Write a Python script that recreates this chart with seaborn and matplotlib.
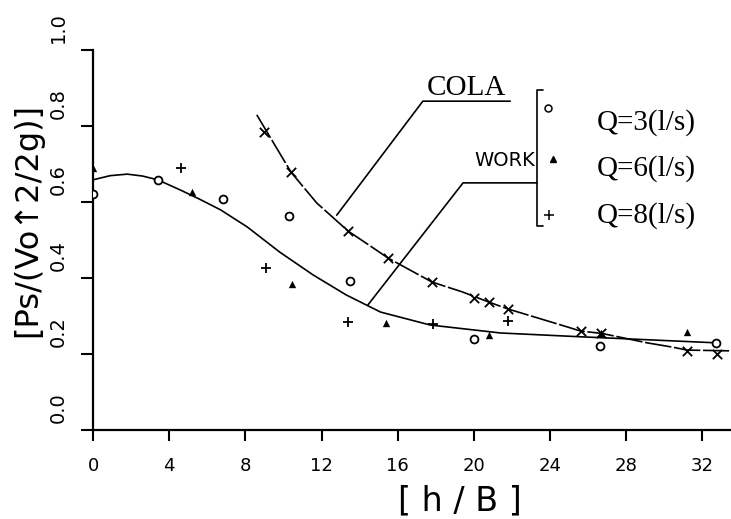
import numpy as np
import pandas as pd
import matplotlib
matplotlib.use("Agg")
import matplotlib.pyplot as plt
from matplotlib.transforms import ScaledTranslation
import seaborn as sns

# Measured pressure coefficient vs. relative depth h/B
q3_x = [0, 3.4, 6.8, 10.3, 13.5, 20.0, 26.6, 32.7]
q3_y = [0.62, 0.657, 0.607, 0.562, 0.391, 0.238, 0.22, 0.228]

q6_x = [0, 5.2, 10.45, 15.4, 20.8, 26.7, 31.2]
q6_y = [0.688, 0.625, 0.383, 0.28, 0.249, 0.253, 0.257]

q8_x = [4.6, 9.1, 13.4, 17.85, 21.8]
q8_y = [0.688, 0.425, 0.283, 0.278, 0.286]

# COLA computed values
cola_pts_x = [9.0, 10.4, 13.4, 15.5, 17.8, 20.0, 20.8, 21.8, 25.6, 26.7, 31.2, 32.75]
cola_pts_y = [0.783, 0.677, 0.522, 0.451, 0.388, 0.346, 0.335, 0.317, 0.259, 0.253, 0.207, 0.199]

cola_curve_x = [8.6, 10.4, 11.75, 13.4, 14.5, 15.5, 17.8, 19.4, 20.8, 21.8, 24.9,
                25.6, 26.7, 29.1, 30.4, 31.2, 33.4]
cola_curve_y = [0.828, 0.677, 0.596, 0.522, 0.485, 0.451, 0.388, 0.362, 0.335, 0.317,
                0.27, 0.259, 0.253, 0.228, 0.217, 0.209, 0.207]

# WORK fitted curve
work_x = [0, 0.9, 1.8, 2.6, 3.4, 4.6, 5.6, 6.7, 8.1, 9.8, 11.55, 13.3, 15.1, 17.7,
          21.4, 25.6, 28.3, 32.75]
work_y = [0.657, 0.668, 0.672, 0.667, 0.657, 0.63, 0.606, 0.578, 0.533, 0.467, 0.407,
          0.354, 0.309, 0.275, 0.254, 0.244, 0.238, 0.228]

x_ticks = [0, 4, 8, 12, 16, 20, 24, 28, 32]
y_ticks = [0.0, 0.2, 0.4, 0.6, 0.8, 1.0]
y_tick_labels = ["0.0", "0.2", "0.4", "0.6", "0.8", "1.0"]
legend_labels = ["Q=3(l/s)", "Q=6(l/s)", "Q=8(l/s)"]

sns.set_style("ticks")
plt.rcParams["font.family"] = ["DejaVu Sans"]

fig = plt.figure(figsize=(7.31, 5.19), dpi=100)
ax = fig.add_axes([93 / 731, (519 - 429.5) / 519, 638 / 731, 380 / 519])

ink = "black"

sns.lineplot(x=work_x, y=work_y, ax=ax, color=ink, lw=1.2, sort=False, estimator=None)
sns.lineplot(x=cola_curve_x, y=cola_curve_y, ax=ax, color=ink, lw=1.2, sort=False,
             estimator=None, dashes=False)
ax.lines[-1].set_dashes([16, 1.6])

sns.scatterplot(x=q3_x, y=q3_y, ax=ax, marker="o", s=32, facecolor="white",
                edgecolor=ink, linewidth=1.3, zorder=4)
sns.scatterplot(x=q6_x, y=q6_y, ax=ax, marker="^", s=28, color=ink, linewidth=0, zorder=4)
sns.scatterplot(x=q8_x, y=q8_y, ax=ax, marker="+", s=45, color=ink, linewidth=1.3, zorder=4)
sns.scatterplot(x=cola_pts_x, y=cola_pts_y, ax=ax, marker="x", s=45, color=ink,
                linewidth=1.3, zorder=4)

ax.set_xlim(0, 33.5)
ax.set_ylim(0, 1.0)
sns.despine(ax=ax)
for side in ("left", "bottom"):
    ax.spines[side].set_linewidth(1.6)
    ax.spines[side].set_color(ink)

ax.set_xticks(x_ticks)
ax.set_xticklabels([str(v) for v in x_ticks], fontsize=13)
ax.set_yticks(y_ticks)
ax.set_yticklabels(y_tick_labels, fontsize=14, rotation=90, va="center")
ax.tick_params(axis="x", direction="out", length=8, width=1.5, pad=12, colors=ink)
ax.tick_params(axis="y", direction="out", length=9, width=1.5, pad=9, colors=ink)
shift = ScaledTranslation(0, 0.22, fig.dpi_scale_trans)
for lab in ax.get_yticklabels():
    lab.set_transform(lab.get_transform() + shift)

ax.set_xlabel("[ h / B ]", fontsize=24, color=ink)
ax.xaxis.set_label_coords((460 - 93) / 638, (429.5 - 484) / 380)
ax.set_ylabel("[Ps/(Vo\u21912/2g)]", fontsize=23, color=ink)
ax.yaxis.label.set_va("center")
ax.yaxis.set_label_coords((28 - 93) / 638, (429.5 - 220) / 380)

# Annotations: COLA and WORK call-outs
tr = ax.transAxes
ax.plot([0.654, 0.517, 0.382], [0.864, 0.864, 0.564], color=ink, lw=1.2,
        transform=tr, clip_on=False)
ax.text(0.585, 0.898, "COLA", transform=tr, ha="center", va="center",
        fontsize=21, family="Liberation Serif", color=ink)
ax.plot([0.696, 0.580, 0.431], [0.649, 0.649, 0.328], color=ink, lw=1.2,
        transform=tr, clip_on=False)
ax.text(0.693, 0.708, "WORK", transform=tr, ha="right", va="center",
        fontsize=14, color=ink)

# Bracketed legend for the measured series
ax.plot([0.706, 0.696, 0.696, 0.706], [0.893, 0.893, 0.536, 0.536], color=ink, lw=1.2,
        transform=tr, clip_on=False)
ax.plot([0.713], [0.846], marker="o", ms=5, mfc="white", mec=ink, mew=1.1,
        transform=tr, clip_on=False)
ax.plot([0.721], [0.712], marker="^", ms=5, color=ink, transform=tr, clip_on=False)
ax.plot([0.715], [0.564], marker="+", ms=7, mew=1.1, color=ink, transform=tr,
        clip_on=False)
for fy, lbl in zip([0.809, 0.688, 0.564], legend_labels):
    ax.text(0.790, fy, lbl, transform=tr, ha="left", va="center", fontsize=21,
            family="Liberation Serif", color=ink)

fig.savefig("out.png", dpi=100)
